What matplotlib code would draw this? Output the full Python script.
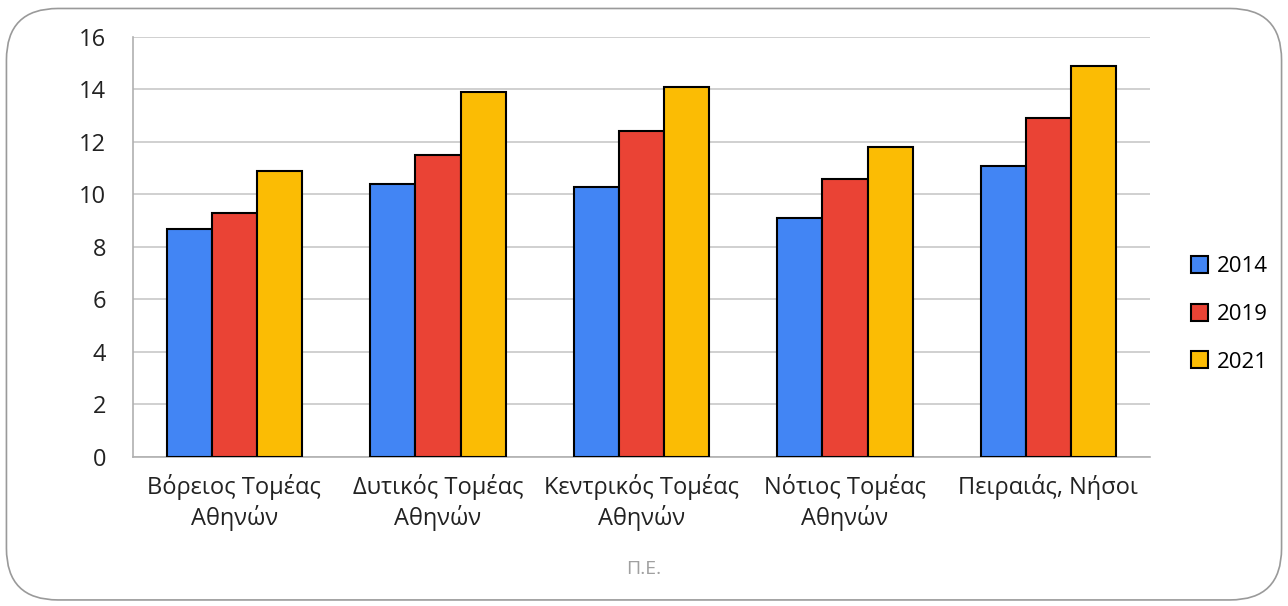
import matplotlib.pyplot as plt
import numpy as np
from matplotlib.patches import FancyBboxPatch

plt.rcParams['font.family'] = ['Open Sans', 'DejaVu Sans']

categories = ['Βόρειος Τομέας\nΑθηνών', 'Δυτικός Τομέας\nΑθηνών',
              'Κεντρικός Τομέας\nΑθηνών', 'Νότιος Τομέας\nΑθηνών',
              'Πειραιάς, Νήσοι']
years = ['2014', '2019', '2021']
v2014 = [8.7, 10.4, 10.3, 9.1, 11.1]
v2019 = [9.3, 11.5, 12.4, 10.6, 12.9]
v2021 = [10.9, 13.9, 14.1, 11.8, 14.9]
colors = ['#4285F4', '#EA4335', '#FBBC04']

fig = plt.figure(figsize=(12.88, 6.06), dpi=100)
ax = fig.add_axes([0.103, 0.246, 0.790, 0.693])

# rounded chart border
frame = FancyBboxPatch((0.005, 0.01), 0.99, 0.976, boxstyle='round,pad=0,rounding_size=0.04',
                       transform=fig.transFigure, fill=False, edgecolor='#9a9a9a',
                       linewidth=1.2, mutation_aspect=1288 / 606)
fig.patches.append(frame)

x = np.arange(len(categories))
w = 0.222
for i, (vals, lab) in enumerate(zip([v2014, v2019, v2021], years)):
    ax.bar(x + (i - 1) * w, vals, w, color=colors[i], edgecolor='black',
           linewidth=1.5, label=lab, zorder=3)

ax.set_xlim(-0.5, len(categories) - 0.5)
ax.set_ylim(0, 16)
ax.set_yticks(range(0, 17, 2))
ax.set_xticks(x)
ax.set_xticklabels(categories, fontsize=17, color='#222222', linespacing=1.25)
ax.tick_params(axis='y', labelsize=17, colors='#222222', length=0, pad=19)
ax.tick_params(axis='x', length=0, pad=12)
ax.grid(axis='y', color='#c8c8c8', linewidth=1.2, zorder=0)
for s in ['top', 'right']:
    ax.spines[s].set_visible(False)
for s in ['left', 'bottom']:
    ax.spines[s].set_color('#b0b0b0')
    ax.spines[s].set_linewidth(1.2)

ax.legend(loc='center left', bbox_to_anchor=(1.02, 0.34), frameon=False,
          fontsize=16, handlelength=0.8, handleheight=0.8, handletextpad=0.4,
          labelspacing=1.2)

fig.text(0.5, 0.052, 'Π.Ε.', fontsize=14, color='#a0a0a0', ha='center')

fig.savefig('out.png', dpi=100)
